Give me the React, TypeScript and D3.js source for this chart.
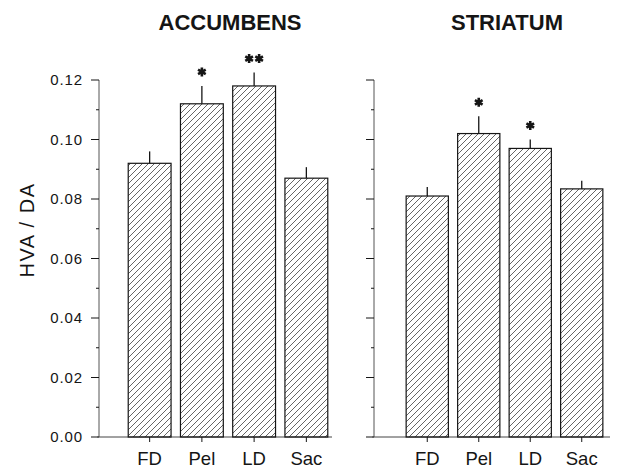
import React, { useEffect, useRef } from 'react';
import * as d3 from 'd3';

// values
const groups = ['FD', 'Pel', 'LD', 'Sac'];
const accumbensMean = [0.092, 0.112, 0.118, 0.087];
const accumbensErr = [0.004, 0.006, 0.0045, 0.0037];
const accumbensStars = ['', '*', '**', ''];
const striatumMean = [0.081, 0.102, 0.097, 0.0834];
const striatumErr = [0.003, 0.0058, 0.003, 0.0027];
const striatumStars = ['', '*', '*', ''];
const majorTicks = [0, 0.02, 0.04, 0.06, 0.08, 0.1, 0.12];
const minorTicks = [0.01, 0.03, 0.05, 0.07, 0.09, 0.11];

const W = 631;
const H = 471;
const ink = '#151515';
const font = '"Liberation Sans", Arial, Helvetica, sans-serif';

const App = () => {
  const ref = useRef<SVGSVGElement>(null);

  useEffect(() => {
    const svg = d3.select(ref.current);
    svg.selectAll('*').remove();

    // hatch pattern
    const pat = svg.append('defs').append('pattern')
        .attr('id', 'hatch')
        .attr('patternUnits', 'userSpaceOnUse')
        .attr('width', 6)
        .attr('height', 6);
    pat.append('path')
        .attr('d', 'M0,6 L6,0 M-1,1 L1,-1 M5,7 L7,5')
        .attr('stroke', '#333')
        .attr('stroke-width', 0.75);

    const y = d3.scaleLinear().domain([0, 0.12]).range([437, 80]);

    const panel = (opts: {
      title: string, titleX: number, axisX: number, range: [number, number],
      baseEnd: number, mean: number[], err: number[], stars: string[], labels: boolean,
    }) => {
      const g = svg.append('g');
      const x = d3.scaleBand().domain(groups).range(opts.range)
          .paddingInner(0.18).paddingOuter(0.1);

      // title
      g.append('text')
          .attr('x', opts.titleX)
          .attr('y', 30)
          .attr('text-anchor', 'middle')
          .style('font-family', font)
          .style('font-weight', 700)
          .style('font-size', '22px')
          .style('fill', ink)
          .text(opts.title);

      // y axis line + ticks
      g.append('line')
          .attr('x1', opts.axisX).attr('x2', opts.axisX)
          .attr('y1', y(0.12)).attr('y2', y(0))
          .attr('stroke', '#555').attr('stroke-width', 1);
      g.selectAll('.major').data(majorTicks).enter().append('line')
          .attr('x1', opts.axisX - 8).attr('x2', opts.axisX)
          .attr('y1', (d) => y(d)).attr('y2', (d) => y(d))
          .attr('stroke', ink).attr('stroke-width', 1);
      g.selectAll('.minor').data(minorTicks).enter().append('line')
          .attr('x1', opts.axisX - 3).attr('x2', opts.axisX)
          .attr('y1', (d) => y(d)).attr('y2', (d) => y(d))
          .attr('stroke', ink).attr('stroke-width', 1);
      if (opts.labels) {
        g.selectAll('.ylab').data(majorTicks).enter().append('text')
            .attr('x', opts.axisX - 16)
            .attr('y', (d) => y(d) + 5)
            .attr('text-anchor', 'end')
            .style('font-family', font)
            .style('font-size', '15px')
            .style('letter-spacing', '0.9px')
            .style('fill', ink)
            .text((d) => d.toFixed(2));
      }

      // baseline
      g.append('line')
          .attr('x1', opts.axisX - 2).attr('x2', opts.baseEnd)
          .attr('y1', y(0)).attr('y2', y(0))
          .attr('stroke', '#444').attr('stroke-width', 1);

      // bars
      const bar = g.selectAll('.bar').data(groups).enter().append('g');
      bar.append('rect')
          .attr('x', (d) => x(d) as number)
          .attr('y', (d, i) => y(opts.mean[i]))
          .attr('width', x.bandwidth())
          .attr('height', (d, i) => y(0) - y(opts.mean[i]))
          .attr('fill', 'url(#hatch)')
          .attr('stroke', ink)
          .attr('stroke-width', 1.2);
      // error bars
      bar.append('line')
          .attr('x1', (d) => (x(d) as number) + x.bandwidth() / 2)
          .attr('x2', (d) => (x(d) as number) + x.bandwidth() / 2)
          .attr('y1', (d, i) => y(opts.mean[i]))
          .attr('y2', (d, i) => y(opts.mean[i] + opts.err[i]))
          .attr('stroke', ink).attr('stroke-width', 1.3);
      // category ticks
      bar.append('line')
          .attr('x1', (d) => (x(d) as number) + x.bandwidth() / 2)
          .attr('x2', (d) => (x(d) as number) + x.bandwidth() / 2)
          .attr('y1', y(0)).attr('y2', y(0) + 5)
          .attr('stroke', ink).attr('stroke-width', 1);
      bar.append('text')
          .attr('x', (d) => (x(d) as number) + x.bandwidth() / 2)
          .attr('y', 465)
          .attr('text-anchor', 'middle')
          .style('font-family', font)
          .style('font-size', '18.5px')
          .style('fill', ink)
          .text((d) => d);

      // significance stars
      const star = d3.symbol().type(d3.symbolAsterisk).size(55);
      bar.each(function (d, i) {
        const n = opts.stars[i].length;
        const cx = (x(d) as number) + x.bandwidth() / 2;
        const cy = y(opts.mean[i] + opts.err[i]) - 14;
        for (let k = 0; k < n; k += 1) {
          d3.select(this).append('path')
              .attr('d', star() as string)
              .attr('transform', `translate(${cx + (k - (n - 1) / 2) * 10}, ${cy})`)
              .attr('stroke', ink)
              .attr('stroke-width', 2.6)
              .attr('fill', 'none');
        }
      });
    };

    panel({
      title: 'ACCUMBENS', titleX: 230, axisX: 99, range: [123, 333], baseEnd: 332,
      mean: accumbensMean, err: accumbensErr, stars: accumbensStars, labels: true,
    });
    panel({
      title: 'STRIATUM', titleX: 507, axisX: 374, range: [401, 608], baseEnd: 610,
      mean: striatumMean, err: striatumErr, stars: striatumStars, labels: false,
    });

    // y axis title
    svg.append('text')
        .attr('transform', 'translate(34, 230) rotate(-90)')
        .attr('text-anchor', 'middle')
        .style('font-family', font)
        .style('font-size', '20px')
        .style('letter-spacing', '1.5px')
        .style('fill', ink)
        .text('HVA / DA');
  }, []);

  return (
    <svg ref={ref} width={W} height={H}
      style={{ position: 'absolute', left: 0, top: 0, background: '#fff' }} />
  );
};

export default App;
